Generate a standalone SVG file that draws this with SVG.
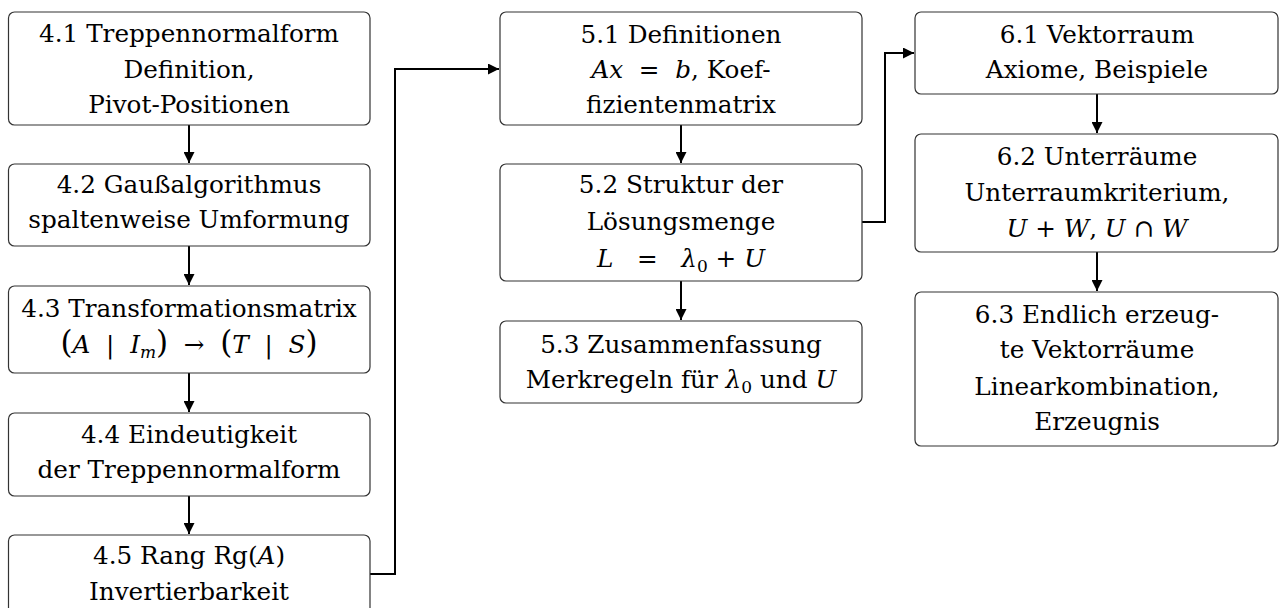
<svg xmlns="http://www.w3.org/2000/svg" width="1284" height="608" viewBox="0 0 1284 608">
<defs>
<style>
.box{fill:#fff;stroke:#333;stroke-width:1.2}
.t text{font-family:"DejaVu Serif",serif;font-size:24.7px;fill:#000;text-anchor:middle}
.i{font-style:italic}
.sub{font-size:17px}
.conn{fill:none;stroke:#000;stroke-width:2}
</style>
<marker id="ah" viewBox="0 0 10 10" refX="10" refY="5" markerWidth="5.5" markerHeight="5.5" orient="auto" markerUnits="strokeWidth">
<path d="M0,0 L10,5 L0,10 z" fill="#000"/>
</marker>
</defs>
<rect width="1284" height="608" fill="#fff"/>
<g id="connectors">
<line class="conn" x1="189" y1="125" x2="189" y2="163" marker-end="url(#ah)"/>
<line class="conn" x1="189" y1="246" x2="189" y2="285" marker-end="url(#ah)"/>
<line class="conn" x1="189" y1="373" x2="189" y2="412" marker-end="url(#ah)"/>
<line class="conn" x1="189" y1="496" x2="189" y2="534" marker-end="url(#ah)"/>
<polyline class="conn" points="370,574 395,574 395,69 499,69" marker-end="url(#ah)"/>
<line class="conn" x1="681" y1="125" x2="681" y2="163" marker-end="url(#ah)"/>
<line class="conn" x1="681" y1="281" x2="681" y2="320" marker-end="url(#ah)"/>
<polyline class="conn" points="862,222 885,222 885,53 914,53" marker-end="url(#ah)"/>
<line class="conn" x1="1097" y1="94" x2="1097" y2="133" marker-end="url(#ah)"/>
<line class="conn" x1="1097" y1="252" x2="1097" y2="291" marker-end="url(#ah)"/>
</g>
<g class="t">
<g id="n41">
<rect class="box" x="8.5" y="12" width="361.5" height="113" rx="6"/>
<text x="189" y="42">4.1 Treppennormalform</text>
<text x="189" y="78">Definition,</text>
<text x="189" y="113">Pivot-Positionen</text>
</g>
<g id="n42">
<rect class="box" x="8.5" y="164" width="361.5" height="82" rx="6"/>
<text x="189" y="193">4.2 Gaußalgorithmus</text>
<text x="189" y="228">spaltenweise Umformung</text>
</g>
<g id="n43">
<rect class="box" x="8.5" y="286" width="361.5" height="87" rx="6"/>
<text x="189" y="317">4.3 Transformationsmatrix</text>
<text x="189" y="353" xml:space="preserve"><tspan font-size="31">(</tspan><tspan class="i">A</tspan>  |  <tspan class="i">I</tspan><tspan class="i sub" dy="5">m</tspan><tspan dy="-5" font-size="31">)</tspan>  →  <tspan font-size="31">(</tspan><tspan class="i">T</tspan>  |  <tspan class="i">S</tspan><tspan font-size="31">)</tspan></text>
</g>
<g id="n44">
<rect class="box" x="8.5" y="413" width="361.5" height="83" rx="6"/>
<text x="189" y="443">4.4 Eindeutigkeit</text>
<text x="189" y="478">der Treppennormalform</text>
</g>
<g id="n45">
<rect class="box" x="8.5" y="535" width="361.5" height="82" rx="6"/>
<text x="189" y="564">4.5 Rang Rg(<tspan class="i">A</tspan>)</text>
<text x="189" y="600">Invertierbarkeit</text>
</g>
<g id="n51">
<rect class="box" x="500" y="12" width="362" height="113" rx="6"/>
<text x="681" y="43">5.1 Definitionen</text>
<text x="681" y="78" xml:space="preserve"><tspan class="i">Ax</tspan>  =  <tspan class="i">b</tspan>, Koef-</text>
<text x="681" y="113">fizientenmatrix</text>
</g>
<g id="n52">
<rect class="box" x="500" y="164" width="362" height="117" rx="6"/>
<text x="681" y="193">5.2 Struktur der</text>
<text x="681" y="230">Lösungsmenge</text>
<text x="681" y="267" xml:space="preserve"><tspan class="i">L</tspan>   =   <tspan class="i">λ</tspan><tspan class="sub" dy="5">0</tspan><tspan dy="-5"> + </tspan><tspan class="i">U</tspan></text>
</g>
<g id="n53">
<rect class="box" x="500" y="321" width="362" height="82" rx="6"/>
<text x="681" y="353">5.3 Zusammenfassung</text>
<text x="681" y="388">Merkregeln für <tspan class="i">λ</tspan><tspan class="sub" dy="5">0</tspan><tspan dy="-5"> und </tspan><tspan class="i">U</tspan></text>
</g>
<g id="n61">
<rect class="box" x="915" y="12" width="363" height="82" rx="6"/>
<text x="1097" y="43">6.1 Vektorraum</text>
<text x="1097" y="78">Axiome, Beispiele</text>
</g>
<g id="n62">
<rect class="box" x="915" y="134" width="363" height="118" rx="6"/>
<text x="1097" y="165">6.2 Unterräume</text>
<text x="1097" y="201">Unterraumkriterium,</text>
<text x="1097" y="237" xml:space="preserve"><tspan class="i">U</tspan> + <tspan class="i">W</tspan>, <tspan class="i">U</tspan> ∩ <tspan class="i">W</tspan></text>
</g>
<g id="n63">
<rect class="box" x="915" y="292" width="363" height="154" rx="6"/>
<text x="1097" y="323">6.3 Endlich erzeug-</text>
<text x="1097" y="358">te Vektorräume</text>
<text x="1097" y="395">Linearkombination,</text>
<text x="1097" y="430">Erzeugnis</text>
</g>
</g>
</svg>
